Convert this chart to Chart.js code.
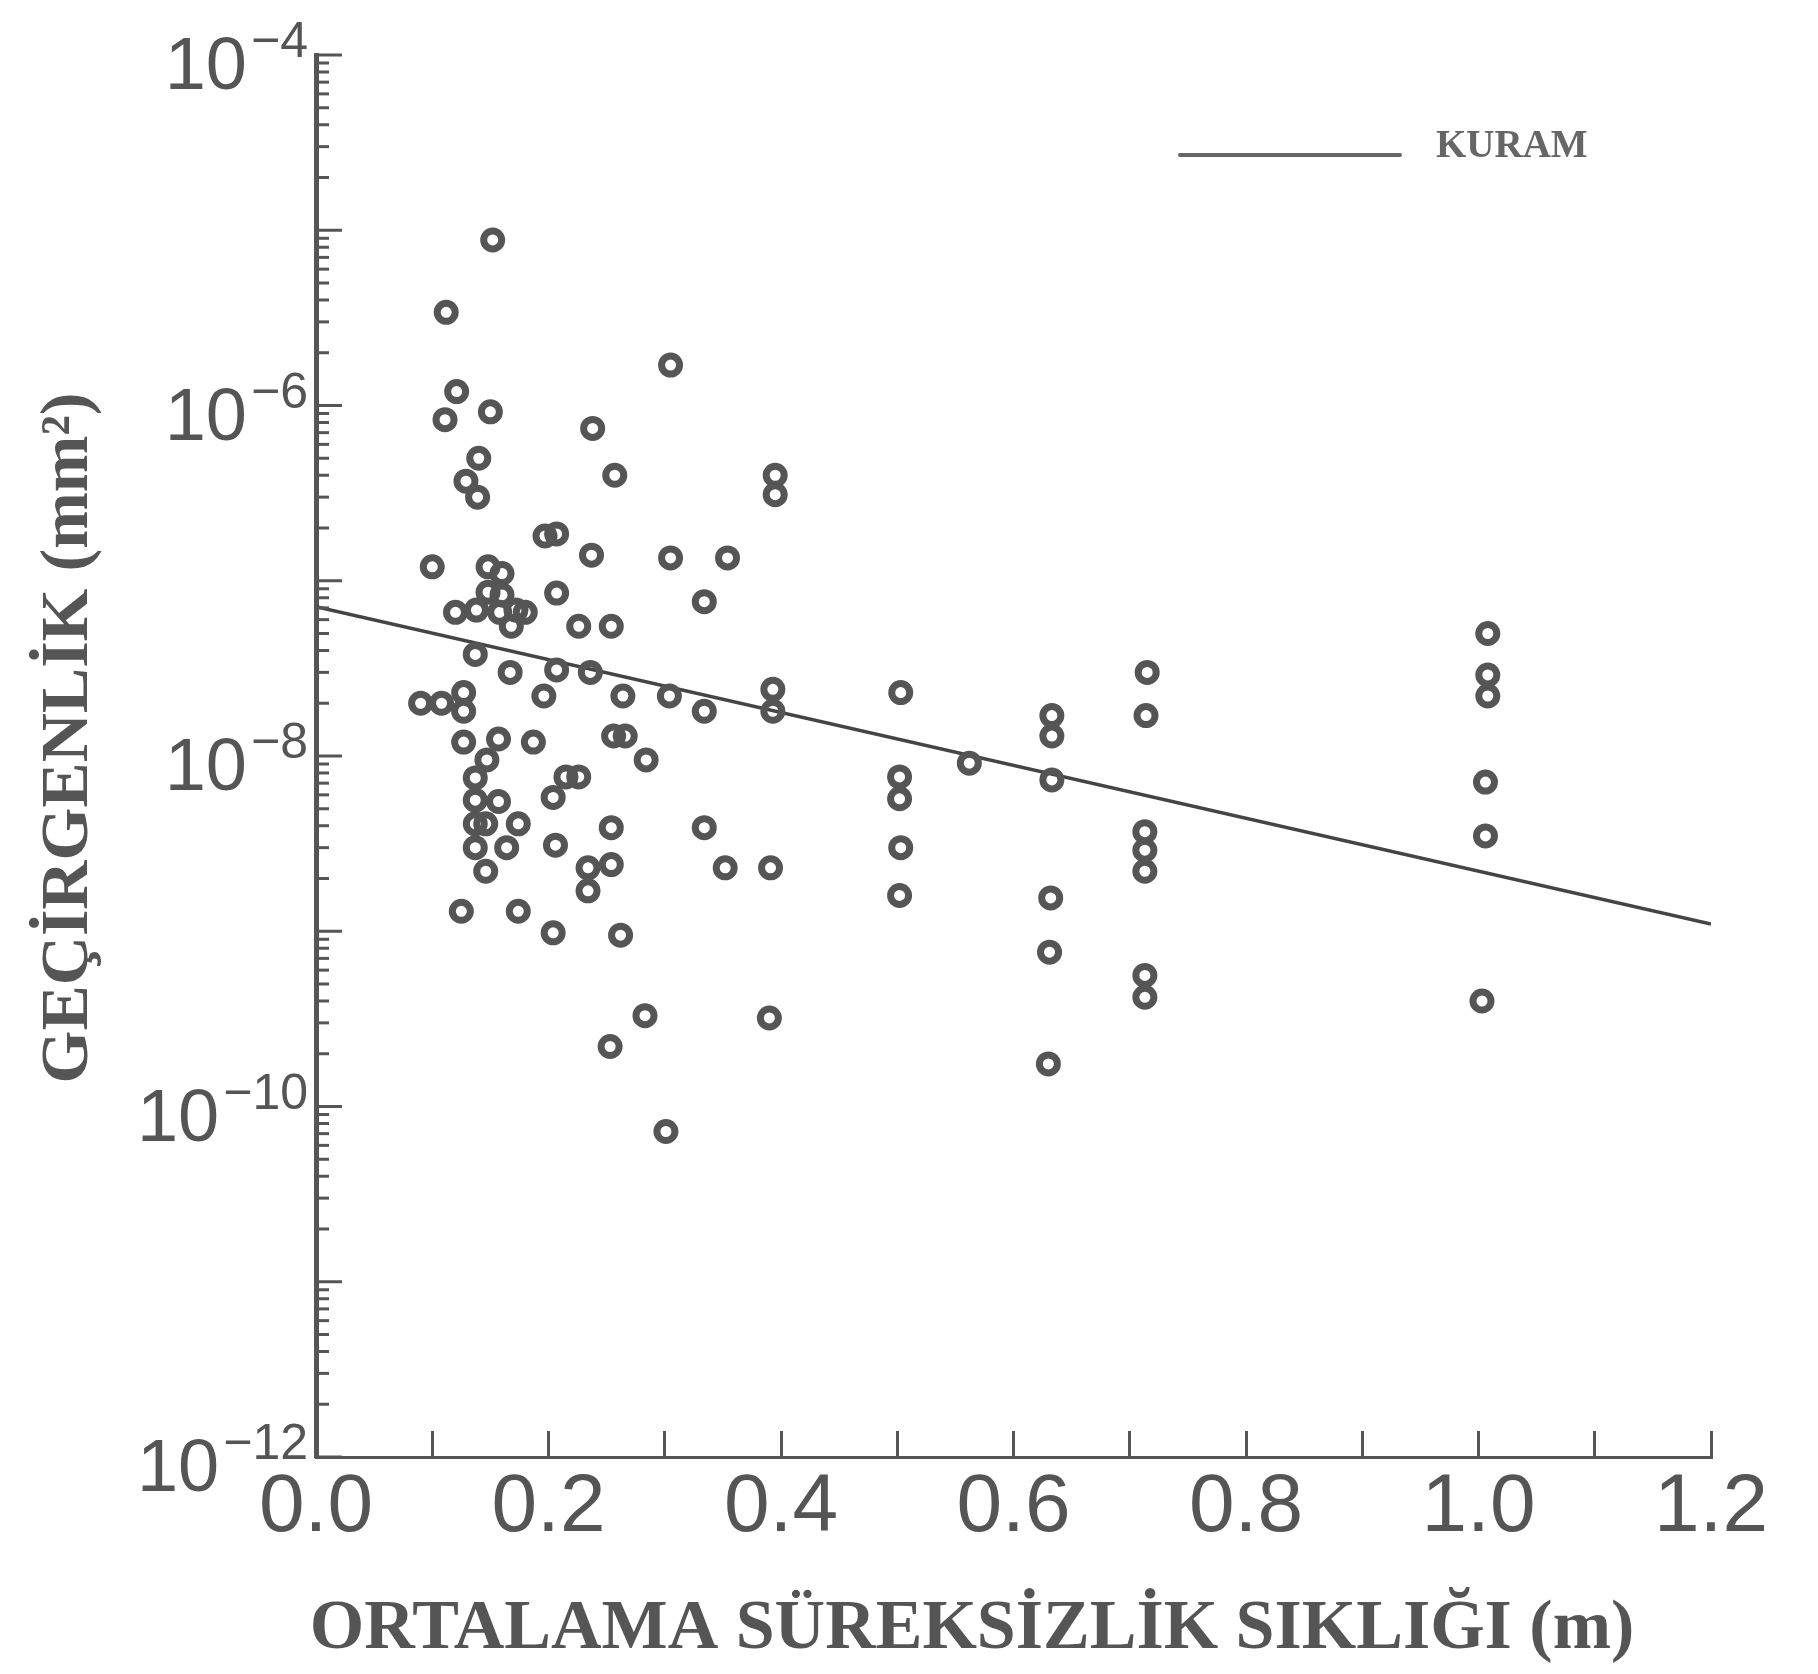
<!DOCTYPE html>
<html>
<head>
<meta charset="utf-8">
<script src="https://cdn.jsdelivr.net/npm/chart.js@4.4.1/dist/chart.umd.min.js"></script>
<style>
  html, body { margin: 0; padding: 0; background: #ffffff; }
  #wrap { width: 1818px; height: 1674px; }
</style>
</head>
<body>
<div id="wrap"><canvas id="mycanvas" width="1818" height="1674"></canvas></div>
<script>
// ortalama süreksizlik sıklığı (m) - olculen noktalar
var frequency = [
	0.152, 0.112, 0.305, 0.121, 0.111, 0.150, 0.238, 0.140, 0.129, 0.139,
	0.257, 0.395, 0.395, 0.197, 0.207, 0.237, 0.305, 0.354, 0.100, 0.148,
	0.160, 0.148, 0.160, 0.120, 0.138, 0.158, 0.172, 0.180, 0.168, 0.207,
	0.334, 0.226, 0.254, 0.137, 0.167, 0.207, 0.236, 0.196, 0.264, 0.304,
	0.334, 0.393, 0.393, 0.090, 0.108, 0.127, 0.127, 0.127, 0.157, 0.187,
	0.256, 0.266, 0.284, 0.147, 0.137, 0.215, 0.226, 0.204, 0.137, 0.157,
	0.137, 0.146, 0.174, 0.164, 0.137, 0.206, 0.254, 0.334, 0.146, 0.234,
	0.254, 0.234, 0.352, 0.391, 0.125, 0.174, 0.204, 0.262, 0.283, 0.253,
	0.390, 0.301, 0.503, 0.502, 0.502, 0.503, 0.502, 0.562, 0.633, 0.633,
	0.633, 0.632, 0.631, 0.630, 0.715, 0.714, 0.713, 0.713, 0.713, 0.713,
	0.713, 1.008, 1.008, 1.008, 1.006, 1.006, 1.003
];

// geçirgenlik (mm2)
var permeability = [
	8.8e-6, 3.4e-6, 1.7e-6, 1.2e-6, 8.3e-7, 9.2e-7, 7.4e-7, 5.0e-7, 3.7e-7, 3.0e-7,
	4.0e-7, 4.0e-7, 3.1e-7, 1.8e-7, 1.85e-7, 1.4e-7, 1.35e-7, 1.35e-7, 1.2e-7, 1.2e-7,
	1.1e-7, 8.6e-8, 8.3e-8, 6.6e-8, 6.8e-8, 6.6e-8, 6.8e-8, 6.6e-8, 5.5e-8, 8.5e-8,
	7.6e-8, 5.5e-8, 5.5e-8, 3.8e-8, 3.0e-8, 3.1e-8, 3.0e-8, 2.2e-8, 2.2e-8, 2.2e-8,
	1.8e-8, 2.4e-8, 1.8e-8, 2.0e-8, 2.0e-8, 2.3e-8, 1.8e-8, 1.2e-8, 1.25e-8, 1.2e-8,
	1.3e-8, 1.3e-8, 9.5e-9, 9.5e-9, 7.5e-9, 7.6e-9, 7.6e-9, 5.8e-9, 5.6e-9, 5.5e-9,
	4.1e-9, 4.1e-9, 4.1e-9, 3.0e-9, 3.0e-9, 3.1e-9, 3.9e-9, 3.9e-9, 2.2e-9, 2.3e-9,
	2.4e-9, 1.7e-9, 2.3e-9, 2.3e-9, 1.3e-9, 1.3e-9, 9.8e-10, 9.5e-10, 3.3e-10, 2.2e-10,
	3.2e-10, 7.2e-11, 2.3e-8, 7.6e-9, 5.7e-9, 3.0e-9, 1.6e-9, 9.1e-9, 1.7e-8, 1.3e-8,
	7.3e-9, 1.55e-9, 7.6e-10, 1.75e-10, 3.0e-8, 1.7e-8, 3.7e-9, 2.9e-9, 2.2e-9, 5.6e-10,
	4.2e-10, 5.0e-8, 2.9e-8, 2.2e-8, 7.1e-9, 3.5e-9, 4.0e-10
];

// kuram dogrusu
var theoryX = [0, 1.2];
var theoryY = [7.1e-8, 1.1e-9];

// eksen etiketleri
var xTickLabels = ["0.0", "", "0.2", "", "0.4", "", "0.6", "", "0.8", "", "1.0", "", "1.2"];
var yDecades = [-12, -11, -10, -9, -8, -7, -6, -5, -4];
var yLabelExps = ["−12", "−10", "−8", "−6", "−4"];
var yLabelValues = [1e-12, 1e-10, 1e-8, 1e-6, 1e-4];

var xTitle = "ORTALAMA SÜREKSİZLİK SIKLIĞI (m)";
var yTitle = "GEÇİRGENLİK (mm²)";
var legendText = "KURAM";

var ink = "#555555";

var points = [];
for (var i in frequency) {
	points.push({x: frequency[i], y: permeability[i]});
}
var theory = [];
for (var j in theoryX) {
	theory.push({x: theoryX[j], y: theoryY[j]});
}

// y ekseni cizgileri, etiketler, baslıklar ve lejant
var decor = {
	id: "decor",
	afterDraw: function(chart) {
		var ctx = chart.ctx;
		var ys = chart.scales.y;
		var area = chart.chartArea;
		var ax = area.left;
		ctx.save();
		ctx.strokeStyle = ink;
		ctx.lineWidth = 3;
		for (var d = 0; d < yDecades.length; d++) {
			var base = Math.pow(10, yDecades[d]);
			for (var k = 1; k <= 9; k++) {
				if (d == yDecades.length - 1 && k > 1) break;
				var py = ys.getPixelForValue(base * k);
				var len = k == 1 ? 26 : 13;
				ctx.beginPath();
				ctx.moveTo(ax, py);
				ctx.lineTo(ax + len, py);
				ctx.stroke();
			}
		}

		ctx.fillStyle = ink;
		ctx.textBaseline = "alphabetic";
		for (var n = 0; n < yLabelValues.length; n++) {
			var ty = ys.getPixelForValue(yLabelValues[n]);
			ctx.font = "50px 'Liberation Sans', Arial, sans-serif";
			ctx.textAlign = "right";
			var supRight = ax - 8;
			ctx.fillText(yLabelExps[n], supRight, ty + 2);
			var w = ctx.measureText(yLabelExps[n]).width;
			ctx.font = "74px 'Liberation Sans', Arial, sans-serif";
			ctx.fillText("10", supRight - w - 4, ty + 34);
		}

		// baslıklar
		ctx.font = "bold 70px 'Liberation Serif', 'Times New Roman', serif";
		ctx.textAlign = "center";
		ctx.textBaseline = "middle";
		ctx.fillText(xTitle, 972, 1630);

		ctx.save();
		ctx.translate(69, 738);
		ctx.rotate(-Math.PI / 2);
		ctx.font = "bold 68px 'Liberation Serif', 'Times New Roman', serif";
		ctx.fillText(yTitle, 0, 0);
		ctx.restore();

		// lejant
		ctx.strokeStyle = "#666666";
		ctx.lineWidth = 4;
		ctx.lineCap = "round";
		ctx.beginPath();
		ctx.moveTo(1180, 155);
		ctx.lineTo(1400, 155);
		ctx.stroke();
		ctx.fillStyle = "#666666";
		ctx.font = "bold 39px 'Liberation Serif', 'Times New Roman', serif";
		ctx.textAlign = "left";
		ctx.textBaseline = "alphabetic";
		ctx.fillText(legendText, 1436, 157);
		ctx.restore();
	}
};

var ctx = document.getElementById("mycanvas");

var chart = new Chart(ctx, {
	type: "scatter",
	data: {
		datasets: [
			{
				label: "ölçüm",
				data: points,
				pointStyle: "circle",
				pointRadius: 9,
				pointBorderWidth: 7,
				borderColor: ink,
				backgroundColor: "rgba(0,0,0,0)"
			},
			{
				label: legendText,
				data: theory,
				showLine: true,
				borderColor: "#444444",
				borderWidth: 3.5,
				pointRadius: 0
			}
		]
	},
	options: {
		responsive: false,
		animation: false,
		devicePixelRatio: 1,
		layout: { padding: { top: 55, right: 107, left: 0, bottom: 0 } },
		plugins: {
			legend: { display: false },
			tooltip: { enabled: false }
		},
		scales: {
			x: {
				type: "linear",
				min: 0,
				max: 1.2,
				afterFit: function(s) { s.height = 1674 - 1457; },
				ticks: {
					stepSize: 0.1,
					autoSkip: false,
					maxRotation: 0,
					padding: 28,
					color: ink,
					font: { family: "'Liberation Sans', Arial, sans-serif", size: 82 },
					callback: function(value, index) { return xTickLabels[index]; }
				},
				grid: { drawOnChartArea: false, tickLength: -26, tickWidth: 3, tickColor: ink },
				border: { color: ink, width: 3 }
			},
			y: {
				type: "logarithmic",
				min: 1e-12,
				max: 1e-4,
				afterFit: function(s) { s.width = 316; },
				ticks: { display: false },
				grid: { drawOnChartArea: false, drawTicks: false },
				border: { color: ink, width: 5 }
			}
		}
	},
	plugins: [decor]
});
</script>
</body>
</html>
